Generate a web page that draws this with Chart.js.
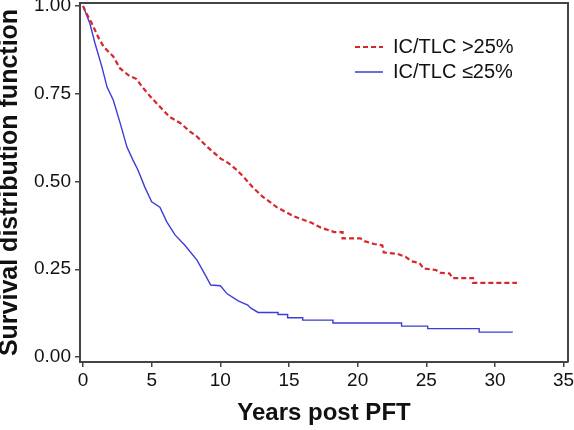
<!DOCTYPE html>
<html>
<head>
<meta charset="utf-8">
<script src="https://cdn.jsdelivr.net/npm/chart.js@4.4.1/dist/chart.umd.min.js"></script>
<style>
  html, body { margin: 0; padding: 0; background: #ffffff; }
  #wrap { width: 574px; height: 430px; }
</style>
</head>
<body>
<div id="wrap"><canvas id="c" width="574" height="430"></canvas></div>
<script>
// ---- Data (Kaplan–Meier style survival curves) ----
const seriesNames = ['IC/TLC >25%', 'IC/TLC \u226425%'];

// IC/TLC >25% (red dashed)
const redT = [0, 0.3, 0.6, 1.1, 1.5, 2.2, 2.7, 3.3, 3.9, 4.3, 4.9, 5.6, 6.3, 7.1, 7.8, 8.3, 9.0,
  10.0, 10.6, 11.2, 11.7, 12.4, 13.1, 13.5, 14.1, 14.9, 15.4, 16.3, 16.6, 17.3, 17.6, 18.3,
  18.9, 18.9, 20.2, 20.5, 21.2, 21.8, 21.9, 22.9, 23.5, 23.9, 24.5, 24.8, 25.7, 26.0, 26.7,
  26.9, 28.4, 28.4, 31.6];
const redS = [1.0, 0.975, 0.954, 0.912, 0.884, 0.856, 0.822, 0.803, 0.792, 0.770, 0.742, 0.713, 0.684, 0.666, 0.642, 0.628, 0.600,
  0.566, 0.552, 0.533, 0.513, 0.482, 0.456, 0.445, 0.427, 0.410, 0.400, 0.387, 0.383, 0.369, 0.365, 0.356,
  0.356, 0.338, 0.338, 0.330, 0.322, 0.318, 0.298, 0.294, 0.285, 0.273, 0.268, 0.252, 0.248, 0.240, 0.238,
  0.225, 0.225, 0.211, 0.211];

// IC/TLC <=25% (blue solid)
const blueT = [0, 0.5, 0.87, 1.38, 1.75, 2.2, 2.7, 3.2, 3.64, 4.0, 4.5, 5.0, 5.6, 6.1, 6.7, 7.4, 8.3, 8.9, 9.3,
  10.0, 10.5, 11.3, 12.0, 12.2, 12.75, 14.2, 14.2, 14.9, 14.9, 16.0, 16.0, 18.2, 18.2, 23.2, 23.2,
  25.1, 25.1, 28.85, 28.85, 31.3];
const blueS = [1.0, 0.95, 0.894, 0.826, 0.769, 0.732, 0.667, 0.598, 0.561, 0.533, 0.484, 0.442, 0.427, 0.385, 0.348, 0.319, 0.276, 0.234, 0.205,
  0.203, 0.180, 0.160, 0.148, 0.140, 0.127, 0.127, 0.121, 0.121, 0.112, 0.112, 0.105, 0.105, 0.097, 0.097, 0.088,
  0.088, 0.081, 0.081, 0.071, 0.071];

const xTicks = [0, 5, 10, 15, 20, 25, 30, 35];
const yTicks = [0, 0.25, 0.5, 0.75, 1.0];
const xTitle = 'Years post PFT';
const yTitle = 'Survival distribution function';

// ---- Build datasets ----
const zip = (t, s) => t.map((v, i) => ({ x: v, y: s[i] }));

const axisColor = '#444444';
const fontFamily = "'Liberation Sans', Arial, Helvetica, sans-serif";

const framePlugin = {
  id: 'frame',
  afterDraw(chart) {
    const { ctx, chartArea: a } = chart;
    ctx.save();
    ctx.strokeStyle = axisColor;
    ctx.lineWidth = 2;
    ctx.beginPath();
    ctx.moveTo(a.left, a.top);
    ctx.lineTo(a.right, a.top);
    ctx.lineTo(a.right, a.bottom);
    ctx.stroke();
    ctx.restore();
  }
};

const legendPlace = {
  id: 'legendPlace',
  afterLayout(chart) {
    const lg = chart.legend;
    if (!lg) return;
    const w = lg.width;
    lg.left = 350;
    lg.top = 32;
    lg.right = lg.left + w + 20;
    lg.width = w + 20;
    lg.height = 70;
    lg.bottom = lg.top + 70;
  }
};

new Chart(document.getElementById('c'), {
  type: 'line',
  data: {
    datasets: [
      {
        label: seriesNames[0],
        data: zip(redT, redS),
        borderColor: '#d8262a',
        backgroundColor: 'rgba(0,0,0,0)',
        borderWidth: 2.2,
        borderDash: [5, 3],
        pointRadius: 0,
        tension: 0
      },
      {
        label: seriesNames[1],
        data: zip(blueT, blueS),
        borderColor: '#3c3cd8',
        backgroundColor: 'rgba(0,0,0,0)',
        borderWidth: 1.4,
        pointRadius: 0,
        tension: 0
      }
    ]
  },
  options: {
    responsive: false,
    devicePixelRatio: 1,
    animation: false,
    layout: { padding: { top: 3, right: 6, left: 0, bottom: 0 } },
    plugins: {
      legend: {
        position: 'chartArea',
        align: 'start',
        labels: {
          usePointStyle: true,
          pointStyle: 'line',
          pointStyleWidth: 28,
          boxWidth: 28,
          padding: 5,
          color: '#111111',
          font: { family: fontFamily, size: 20 },
          generateLabels(chart) {
            const items = Chart.defaults.plugins.legend.labels.generateLabels(chart);
            items.forEach(it => {
              const ds = chart.data.datasets[it.datasetIndex];
              it.lineDash = ds.borderDash ? ds.borderDash.slice() : [];
              it.lineWidth = ds.borderWidth;
              it.strokeStyle = ds.borderColor;
            });
            return items;
          }
        }
      },
      tooltip: { enabled: false }
    },
    scales: {
      x: {
        type: 'linear',
        min: -0.22,
        max: 35.32,
        afterBuildTicks(scale) { scale.ticks = xTicks.map(v => ({ value: v })); },
        afterFit(scale) {
          scale.height = 68;
          scale.paddingLeft = 0; scale.paddingRight = 0;
        },
        ticks: {
          color: '#111111',
          font: { family: fontFamily, size: 19 },
          padding: 2,
          maxRotation: 0,
          autoSkip: false
        },
        grid: {
          display: true,
          drawOnChartArea: false,
          drawTicks: true,
          tickLength: 5,
          color: axisColor,
          lineWidth: 1.5
        },
        border: { display: true, color: axisColor, width: 2 },
        title: {
          display: true,
          text: xTitle,
          color: '#111111',
          font: { family: fontFamily, size: 24, weight: 'bold', lineHeight: 1.2 },
          padding: { top: 0, bottom: 2 }
        }
      },
      y: {
        type: 'linear',
        min: -0.0142,
        max: 1.0085,
        afterBuildTicks(scale) { scale.ticks = yTicks.map(v => ({ value: v })); },
        afterFit(scale) {
          scale.width = 80;
          scale.paddingTop = 0; scale.paddingBottom = 0;
        },
        ticks: {
          color: '#111111',
          font: { family: fontFamily, size: 19 },
          padding: 4,
          autoSkip: false,
          callback: (v) => Number(v).toFixed(2)
        },
        grid: {
          display: true,
          drawOnChartArea: false,
          drawTicks: true,
          tickLength: 5,
          color: axisColor,
          lineWidth: 1.5
        },
        border: { display: true, color: axisColor, width: 2 },
        title: {
          display: true,
          text: yTitle,
          color: '#111111',
          font: { family: fontFamily, size: 25, weight: 'bold', lineHeight: 0.8 },
          padding: { top: 0, bottom: 0 }
        }
      }
    }
  },
  plugins: [framePlugin, legendPlace]
});
</script>
</body>
</html>
